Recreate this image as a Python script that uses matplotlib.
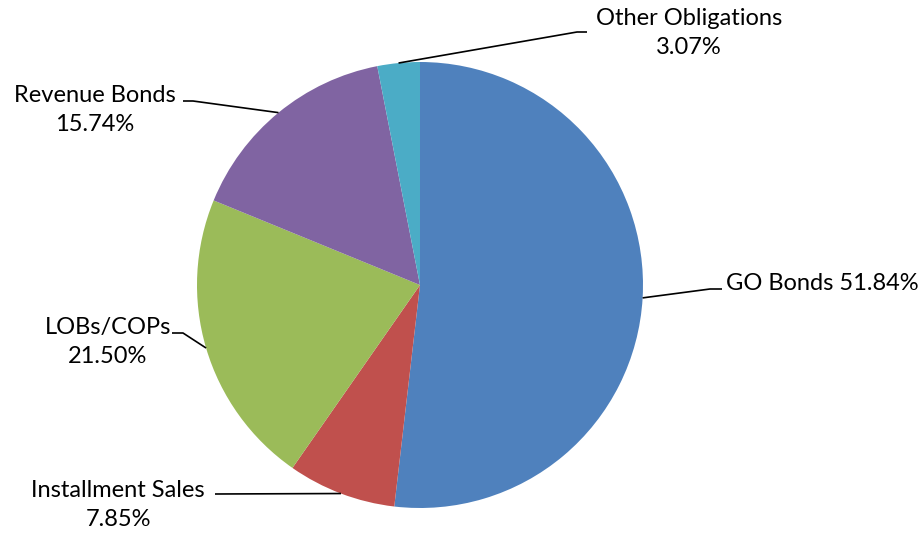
import numpy as np
import matplotlib
matplotlib.use("Agg")
import matplotlib.pyplot as plt

plt.rcParams['font.family'] = ['Lato', 'DejaVu Sans']

# data
categories = ['GO Bonds', 'Installment Sales', 'LOBs/COPs', 'Revenue Bonds', 'Other Obligations']
shares = [51.84, 7.85, 21.50, 15.74, 3.07]
colors = ['#4F81BD', '#C0504D', '#9BBB59', '#8064A2', '#4BACC6']

# label layout in pixels (text center, elbow start, elbow end next to text)
label_text = ['GO Bonds 51.84%', 'Installment Sales\n7.85%', 'LOBs/COPs\n21.50%',
              'Revenue Bonds\n15.74%', 'Other Obligations\n3.07%']
label_pos = [(726, 284, 'left'), (118, 505, 'center'), (108, 342, 'center'),
             (95, 110, 'center'), (689, 33, 'center')]
elbows = [((710, 289), (722, 289)), ((215, 494), (215, 494)), ((183, 333), (172, 333)),
          ((193, 101), (183, 101)), ((577, 32), (587, 32))]

W, H = 922, 533
CX, CY, R = 420, 285, 223


def to_data(px, py):
    return (px - CX) / R, (CY - py) / R


fig = plt.figure(figsize=(W / 100, H / 100), dpi=100)
ax = fig.add_axes([0, 0, 1, 1])

wedges, _ = ax.pie(shares, colors=colors, startangle=90, counterclock=False,
                   radius=1, center=(0, 0), frame=True)
ax.set_xlim(-CX / R, (W - CX) / R)
ax.set_ylim(-(H - CY) / R, CY / R)
ax.set_aspect('equal')
ax.set_axis_off()

for w, txt, (tx, ty, ha), (e1, e2) in zip(wedges, label_text, label_pos, elbows):
    mid = np.deg2rad((w.theta1 + w.theta2) / 2)
    sx, sy = np.cos(mid), np.sin(mid)
    p1 = to_data(*e1)
    p2 = to_data(*e2)
    ax.plot([sx, p1[0], p2[0]], [sy, p1[1], p2[1]], color='black', lw=1.2,
            solid_capstyle='butt', zorder=5)
    x, y = to_data(tx, ty)
    ax.text(x, y, txt, ha=ha, va='center', multialignment='center',
            fontsize=17, color='black', linespacing=1.42)

fig.savefig('out.png', dpi=100)
